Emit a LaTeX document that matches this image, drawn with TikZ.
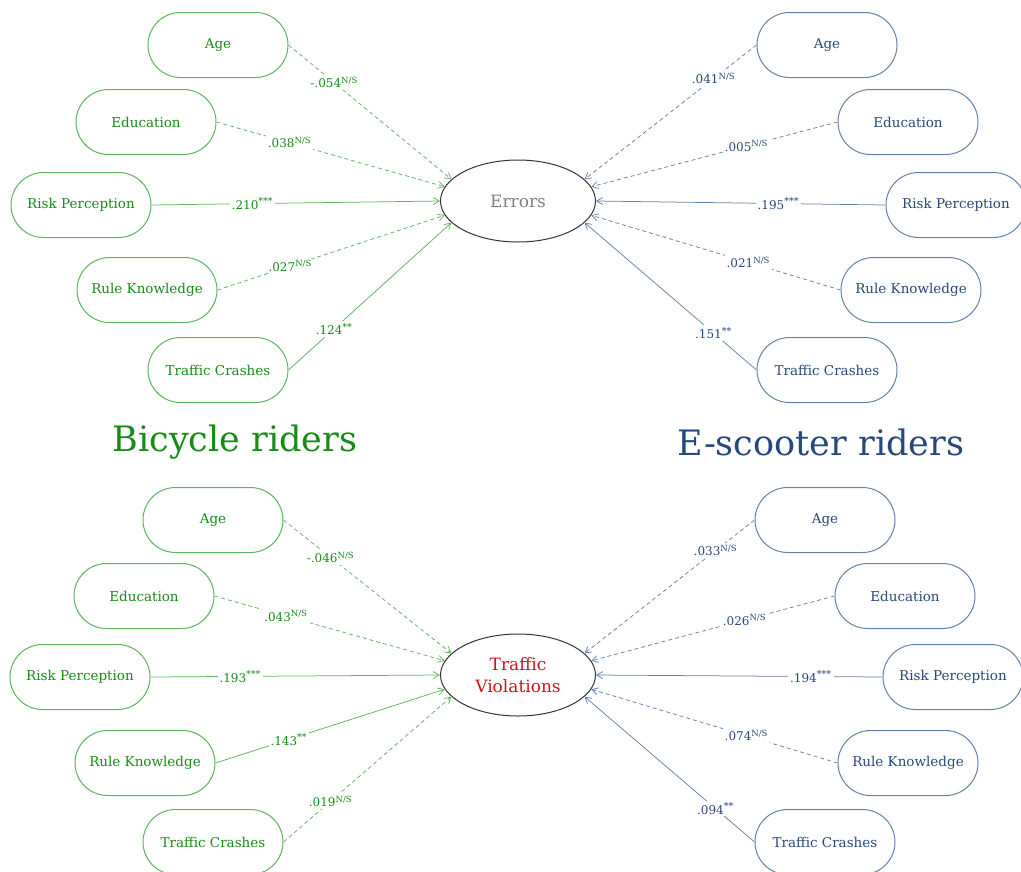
\documentclass[tikz,border=0pt]{standalone}
\usepackage{fontspec}
\setmainfont{DejaVu Serif}
\usetikzlibrary{arrows.meta,shapes.geometric,shapes.misc}
\definecolor{gtext}{RGB}{22,140,22}
\definecolor{gline}{RGB}{95,178,95}
\definecolor{btext}{RGB}{38,72,122}
\definecolor{bline}{RGB}{100,130,168}
\definecolor{errgray}{RGB}{128,128,128}
\definecolor{vred}{RGB}{200,20,25}
\newcommand\myns{\textsuperscript{\fontsize{8.5}{9}\selectfont N/S}}
\newcommand\mystars[1]{\textsuperscript{\fontsize{9.5}{9}\selectfont #1}}
\tikzset{
  pill/.style={rounded rectangle, minimum width=144pt, minimum height=65pt, line width=1pt, inner sep=2pt, font=\fontsize{13.5}{16}\selectfont},
  gbox/.style={pill, draw=gline, text=gtext},
  bbox/.style={pill, draw=bline, text=btext},
  outcome/.style={ellipse, draw=black!80, line width=1pt, minimum width=155pt, minimum height=82pt, inner sep=0pt, align=center, font=\fontsize{17}{22}\selectfont},
  arr/.style={line width=0.75pt, -{Straight Barb[length=6pt,width=7pt]}},
  ga/.style={arr, draw=gline},
  ba/.style={arr, draw=bline},
  nsd/.style={dash pattern=on 4pt off 3pt},
  lbl/.style={fill=white, inner sep=2pt, font=\fontsize{12}{13}\selectfont},
  gl/.style={lbl, text=gtext},
  bl/.style={lbl, text=btext},
  title/.style={font=\fontsize{35}{40}\selectfont}
}
\begin{document}
\begin{tikzpicture}[x=1pt,y=-1pt]
\useasboundingbox (0,0) rectangle (1021,871);
% ---------- top: Errors ----------
\node[outcome, text=errgray] (err) at (518,201) {Errors};
\node[gbox] (lA) at (218,45) {Age};
\node[gbox] (lE) at (146,122) {Education};
\node[gbox] (lR) at (81,205) {Risk Perception};
\node[gbox] (lK) at (147,290) {Rule Knowledge};
\node[gbox] (lC) at (218,370) {Traffic Crashes};
\node[bbox] (rA) at (827,45) {Age};
\node[bbox] (rE) at (908,122) {Education};
\node[bbox] (rR) at (956,205) {Risk Perception};
\node[bbox] (rK) at (911,290) {Rule Knowledge};
\node[bbox] (rC) at (827,370) {Traffic Crashes};
\draw[ga,nsd] (lA.east) -- node[gl,pos=0.28]{-.054\myns} (err.162);
\draw[ga,nsd] (lE.east) -- node[gl,pos=0.32]{.038\myns} (err.169);
\draw[ga] (lR.east) -- node[gl,pos=0.35]{.210\mystars{***}} (err.180);
\draw[ga,nsd] (lK.east) -- node[gl,pos=0.32]{.027\myns} (err.191);
\draw[ga] (lC.east) -- node[gl,pos=0.28]{.124\mystars{**}} (err.198);
\draw[ba,nsd] (rA.west) -- node[bl,pos=0.25]{.041\myns} (err.18);
\draw[ba,nsd] (rE.west) -- node[bl,pos=0.37]{.005\myns} (err.11);
\draw[ba] (rR.west) -- node[bl,pos=0.37]{.195\mystars{***}} (err.0);
\draw[ba,nsd] (rK.west) -- node[bl,pos=0.37]{.021\myns} (err.-11);
\draw[ba] (rC.west) -- node[bl,pos=0.25]{.151\mystars{**}} (err.-18);
% ---------- titles ----------
\node[title, text=gtext] (tbike) at (235,442) {Bicycle riders};
\node[title, text=btext] (tscoot) at (821,442) {E-scooter riders};
% ---------- bottom: Traffic Violations ----------
\node[outcome, text=vred] (viol) at (518,675) {Traffic\\Violations};
\node[gbox] (blA) at (213,520) {Age};
\node[gbox] (blE) at (144,596) {Education};
\node[gbox] (blR) at (80,677) {Risk Perception};
\node[gbox] (blK) at (145,763) {Rule Knowledge};
\node[gbox] (blC) at (213,842) {Traffic Crashes};
\node[bbox] (brA) at (825,520) {Age};
\node[bbox] (brE) at (905,596) {Education};
\node[bbox] (brR) at (953,677) {Risk Perception};
\node[bbox] (brK) at (908,763) {Rule Knowledge};
\node[bbox] (brC) at (825,842) {Traffic Crashes};
\draw[ga,nsd] (blA.east) -- node[gl,pos=0.28]{-.046\myns} (viol.162);
\draw[ga,nsd] (blE.east) -- node[gl,pos=0.31]{.043\myns} (viol.169);
\draw[ga] (blR.east) -- node[gl,pos=0.31]{.193\mystars{***}} (viol.180);
\draw[ga] (blK.east) -- node[gl,pos=0.32]{.143\mystars{**}} (viol.191);
\draw[ga,nsd] (blC.east) -- node[gl,pos=0.28]{.019\myns} (viol.198);
\draw[ba,nsd] (brA.west) -- node[bl,pos=0.23]{.033\myns} (viol.18);
\draw[ba,nsd] (brE.west) -- node[bl,pos=0.37]{.026\myns} (viol.11);
\draw[ba] (brR.west) -- node[bl,pos=0.25]{.194\mystars{***}} (viol.0);
\draw[ba,nsd] (brK.west) -- node[bl,pos=0.37]{.074\myns} (viol.-11);
\draw[ba] (brC.west) -- node[bl,pos=0.23]{.094\mystars{**}} (viol.-18);
\end{tikzpicture}
\end{document}
